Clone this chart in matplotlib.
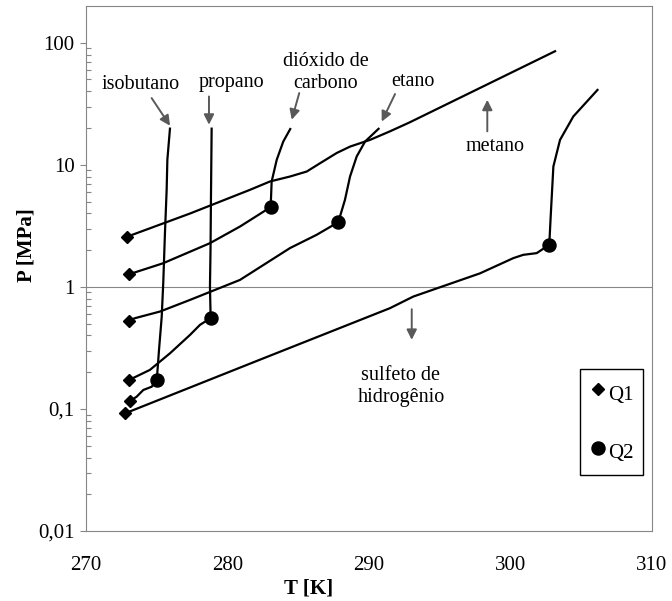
import matplotlib
matplotlib.use('Agg')
import matplotlib.pyplot as plt
from matplotlib.ticker import FixedLocator, FixedFormatter, NullFormatter

plt.rcParams['font.family'] = ['Liberation Serif', 'DejaVu Serif']

# hydrate equilibrium curves: T [K], P [MPa]
metano_T = [272.88, 277.35, 281.59, 283.00, 284.42, 285.60, 286.54, 287.72, 288.66, 290.07, 291.48, 292.85, 303.22]
metano_P = [2.57, 3.99, 6.24, 7.30, 8.02, 8.81, 10.3, 12.5, 14.1, 16.0, 18.8, 22.2, 86.0]

co2_T = [273.06, 275.44, 278.76, 280.88, 283.05, 283.12, 283.48, 283.94, 284.47]
co2_P = [1.27, 1.56, 2.28, 3.12, 4.50, 7.30, 11.0, 15.5, 20.0]

etano_T = [273.06, 273.46, 275.23, 277.35, 280.88, 284.42, 286.30, 287.83, 288.30, 288.66, 289.13, 289.72, 290.73]
etano_P = [0.530, 0.554, 0.628, 0.782, 1.14, 2.08, 2.67, 3.39, 5.16, 8.02, 11.7, 15.5, 20.0]

propano_T = [273.06, 274.52, 275.94, 277.35, 278.06, 278.81, 278.76, 278.80, 278.83, 278.88]
propano_P = [0.173, 0.209, 0.286, 0.404, 0.489, 0.554, 1.0, 2.01, 5.17, 20.2]

isobutano_T = [273.11, 273.58, 274.05, 274.64, 275.00, 275.16, 275.35, 275.46, 275.58, 275.70, 275.75, 275.94]
isobutano_P = [0.116, 0.126, 0.143, 0.152, 0.171, 0.305, 0.568, 1.08, 2.77, 6.24, 11.0, 20.2]

h2s_T = [272.76, 282.06, 291.48, 293.13, 297.84, 300.20, 300.90, 301.85, 302.74, 302.84, 303.03, 303.50, 304.44, 306.20]
h2s_P = [0.092, 0.247, 0.669, 0.833, 1.29, 1.72, 1.83, 1.89, 2.21, 3.77, 9.69, 16.0, 24.9, 41.7]

# quadruple points
q1_T = [272.88, 273.06, 273.06, 273.06, 273.11, 272.76]
q1_P = [2.57, 1.27, 0.530, 0.173, 0.116, 0.092]
q2_T = [283.05, 287.83, 278.81, 275.00, 302.74]
q2_P = [4.50, 3.39, 0.554, 0.171, 2.21]

y_ticks = [0.01, 0.1, 1, 10, 100]
y_labels = ['0,01', '0,1', '1', '10', '100']
x_ticks = [270, 280, 290, 300, 310]

gray = '#868686'
arrow_c = '#595959'

fig = plt.figure(figsize=(6.72, 6.01), dpi=100)
ax = fig.add_axes([86/672, 1 - 531/601, 566/672, 525/601])

curves = [(metano_T, metano_P), (co2_T, co2_P), (etano_T, etano_P),
          (propano_T, propano_P), (isobutano_T, isobutano_P), (h2s_T, h2s_P)]
for t, p in curves:
    ax.plot(t, p, color='black', lw=1.6, solid_capstyle='butt', zorder=3)

ax.plot(q1_T, q1_P, ls='none', marker='D', ms=6.2, color='black', label='Q1', zorder=4)
ax.plot(q2_T, q2_P, ls='none', marker='o', ms=9.4, color='black', label='Q2', zorder=4)

ax.axhline(1, color=gray, lw=0.8, zorder=1)

ax.set_yscale('log')
ax.set_xlim(270, 310)
ax.set_ylim(0.01, 200)

ax.yaxis.set_major_locator(FixedLocator(y_ticks))
ax.yaxis.set_major_formatter(FixedFormatter(y_labels))
minors = [k * 10.0**e for e in range(-2, 2) for k in range(2, 10)]
ax.yaxis.set_minor_locator(FixedLocator(minors))
ax.yaxis.set_minor_formatter(NullFormatter())
ax.set_xticks(x_ticks)
ax.set_xticklabels([str(v) for v in x_ticks])

ax.tick_params(axis='y', which='major', direction='out', length=4.5, width=0.8,
               color=gray, pad=3.6, labelsize=15)
ax.tick_params(axis='y', which='minor', direction='in', length=3.5, width=0.8, color=gray)
ax.tick_params(axis='x', length=0, pad=18, labelsize=15)

for s in ax.spines.values():
    s.set_color(gray)
    s.set_linewidth(0.8)

ax.set_xlabel('T [K]', fontsize=15, fontweight='bold')
ax.xaxis.set_label_coords((309 - 86) / 566, (531 - 588) / 525)
ax.xaxis.label.set_va('center')
ax.set_ylabel('P [MPa]', fontsize=15, fontweight='bold')
ax.yaxis.set_label_coords((27 - 86) / 566, (531 - 245) / 525)
ax.yaxis.label.set_va('center')

# labels and arrows
notes = [
    ('isobutano', (273.89, 45.3), (274.64, 35.2), (275.94, 20.9)),
    ('propano', (280.25, 47.0), (278.69, 36.3), (278.69, 21.3)),
    ('dióxido de\ncarbono', (286.96, 56.8), (285.07, 38.7), (284.54, 23.4)),
    ('etano', (293.11, 48.2), (291.84, 38.0), (290.90, 22.6)),
    ('metano', (298.90, 14.1), (298.36, 18.8), (298.36, 34.1)),
    ('sulfeto de\nhidrogênio', (292.26, 0.152), (293.02, 0.656), (293.02, 0.368)),
]
for txt, pos, tail, head in notes:
    ax.text(pos[0], pos[1], txt, ha='center', va='center', fontsize=14.5,
            linespacing=1.2, zorder=5)
    ax.annotate('', xy=head, xytext=tail,
                arrowprops=dict(arrowstyle='-|>', color=arrow_c, lw=1.4,
                                mutation_scale=15, shrinkA=0, shrinkB=0))

leg = ax.legend(loc='center', bbox_to_anchor=(0.9285, 0.2076), fontsize=15,
                frameon=True, fancybox=False, edgecolor='black', framealpha=1,
                handlelength=0.8, handletextpad=0.1, borderpad=0.45,
                handleheight=1.7, labelspacing=1.45, numpoints=1, borderaxespad=0)
leg.get_frame().set_linewidth(1.0)

fig.savefig('out.png', dpi=100)
